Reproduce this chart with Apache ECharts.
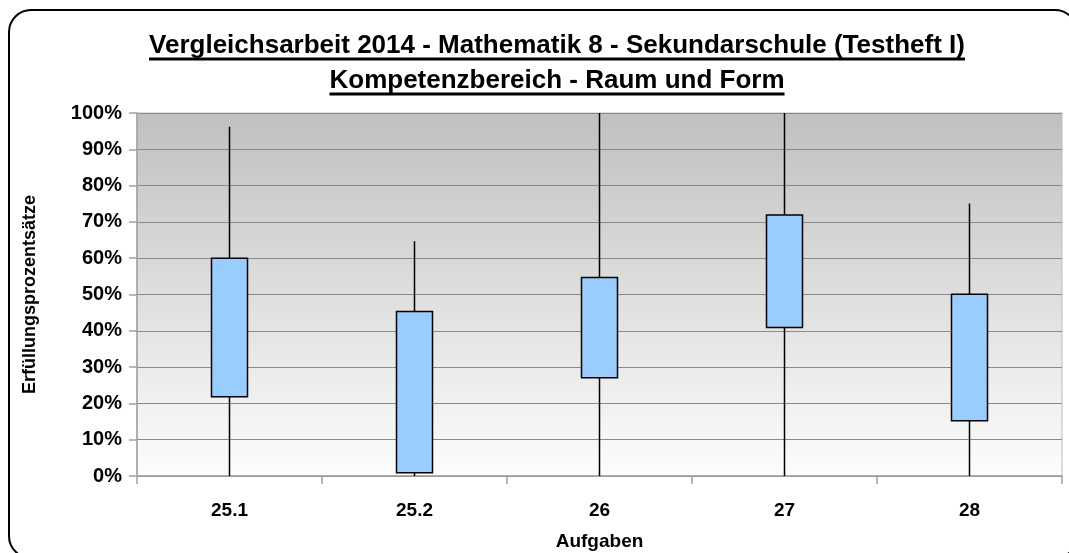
<!DOCTYPE html>
<html>
<head>
<meta charset="utf-8">
<title>Vergleichsarbeit 2014 - Raum und Form</title>
<script src="https://cdn.jsdelivr.net/npm/echarts@6/dist/echarts.min.js"></script>
<style>
  html, body { margin: 0; padding: 0; background: #fff; }
  #chart { width: 1069px; height: 553px; }
</style>
</head>
<body>
<div id="chart"></div>
<script>
// Aufgaben (Kategorien)
const categories = ['25.1', '25.2', '26', '27', '28']
// Box: unteres / oberes Quartil, Whisker: Minimum / Maximum (in %)
const lowerQuartile = [21.8, 0.9, 27.1, 40.9, 15.2]
const upperQuartile = [60.0, 45.3, 54.7, 71.9, 50.1]
const minimum = [0, 0, 0, 0, 0]
const maximum = [96.2, 64.7, 100, 100, 75.1]

const titleLines = [
  'Vergleichsarbeit 2014 - Mathematik 8 - Sekundarschule (Testheft I)',
  'Kompetenzbereich - Raum und Form',
]

const FONT = '"Liberation Sans", Arial, sans-serif'
const titleFont = 'bold 26px ' + FONT

// Breite der Titelzeilen messen, damit die Unterstreichung passt
const measureCtx = document.createElement('canvas').getContext('2d')
measureCtx.font = titleFont
const titleCenterX = 557
const titleY = [46, 81]
const underlineY = [59, 94]

const titleGraphics = []
titleLines.forEach((line, i) => {
  const w = measureCtx.measureText(line).width
  titleGraphics.push({
    type: 'text',
    x: titleCenterX,
    y: titleY[i],
    style: {
      text: line,
      font: titleFont,
      fill: '#000',
      textAlign: 'center',
      textVerticalAlign: 'middle',
    },
  })
  titleGraphics.push({
    type: 'line',
    shape: { x1: titleCenterX - w / 2, y1: underlineY[i], x2: titleCenterX + w / 2, y2: underlineY[i] },
    style: { stroke: '#000', lineWidth: 3 },
  })
})

// candlestick erwartet [open, close, lowest, highest]
const boxData = categories.map((c, i) => [lowerQuartile[i], upperQuartile[i], minimum[i], maximum[i]])

const chart = echarts.init(document.getElementById('chart'))

chart.setOption({
  animation: false,
  textStyle: { fontFamily: FONT },
  graphic: [
    // abgerundeter Rahmen um das ganze Diagramm
    {
      type: 'rect',
      shape: { x: 9, y: 10, width: 1068, height: 548, r: 22 },
      style: { fill: 'none', stroke: '#000', lineWidth: 2 },
      z: -1,
    },
    ...titleGraphics,
  ],
  grid: {
    left: 137,
    right: 7,
    top: 113,
    bottom: 77,
    outerBoundsMode: 'none',
    containLabel: false,
    show: true,
    borderColor: '#bdbdbd',
    borderWidth: 1,
    backgroundColor: new echarts.graphic.LinearGradient(0, 0, 0, 1, [
      { offset: 0, color: '#c0c0c0' },
      { offset: 1, color: '#fdfdfd' },
    ]),
  },
  xAxis: {
    type: 'category',
    data: categories,
    boundaryGap: true,
    name: 'Aufgaben',
    nameLocation: 'middle',
    nameGap: 56,
    nameTextStyle: { color: '#000', fontWeight: 'bold', fontSize: 19, fontFamily: FONT },
    axisLine: { show: true, lineStyle: { color: '#a0a0a0', width: 1.5 } },
    axisTick: { show: true, alignWithLabel: false, length: 8, lineStyle: { color: '#a0a0a0', width: 1.5 } },
    axisLabel: { color: '#000', fontWeight: 'bold', fontSize: 19, margin: 25, fontFamily: FONT },
    splitLine: { show: false },
  },
  yAxis: {
    type: 'value',
    min: 0,
    max: 100,
    interval: 10,
    name: 'Erfüllungsprozentsätze',
    nameLocation: 'middle',
    nameGap: 98,
    nameRotate: 90,
    nameTextStyle: { color: '#000', fontWeight: 'bold', fontSize: 18, fontFamily: FONT },
    axisLine: { show: true, lineStyle: { color: '#a0a0a0', width: 1.5 } },
    axisTick: { show: true, length: 8, lineStyle: { color: '#a0a0a0', width: 1.5 } },
    axisLabel: {
      color: '#000',
      fontWeight: 'bold',
      fontSize: 20,
      margin: 15,
      fontFamily: FONT,
      formatter: '{value}%',
    },
    splitLine: { show: true, lineStyle: { color: '#8a8a8a', width: 1 } },
  },
  series: [
    {
      type: 'candlestick',
      data: boxData,
      barWidth: 36,
      itemStyle: {
        color: '#99ccff',
        color0: '#99ccff',
        borderColor: '#000',
        borderColor0: '#000',
        borderWidth: 1.5,
      },
    },
  ],
})
</script>
</body>
</html>
